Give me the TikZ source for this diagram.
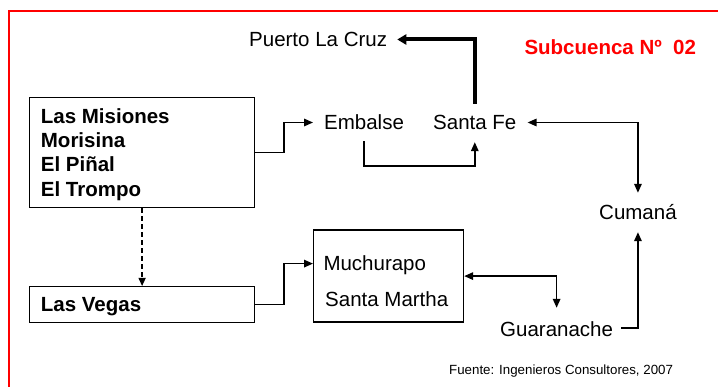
\documentclass[tikz,border=0pt]{standalone}
\usepackage{fontspec}
\setmainfont{Liberation Sans}
\usetikzlibrary{arrows.meta,calc}
\begin{document}
\begin{tikzpicture}[x=1pt,y=-1pt,
  txt/.style={inner sep=0pt, text height=15pt, text depth=0pt, font=\fontsize{20.5}{24.3}\selectfont},
  btxt/.style={txt, font=\fontsize{20.5}{24.3}\selectfont\bfseries},
  mtxt/.style={inner sep=0pt, align=left, font=\fontsize{20.5}{24.3}\selectfont\bfseries},
  boxst/.style={draw, line width=1.2pt, inner sep=0pt},
  conn/.style={line width=1.6pt, -{Triangle[length=9pt,width=7.5pt]}},
  connboth/.style={line width=1.6pt, {Triangle[length=9pt,width=7.5pt]}-{Triangle[length=9pt,width=7.5pt]}},
  thickconn/.style={line width=4pt, -{Triangle[length=9pt,width=10pt]}},
  dashconn/.style={line width=1.3pt, dash pattern=on 5pt off 3pt, -{Triangle[length=8pt,width=7pt]}},
  frame/.style={red, line width=2pt}]
\useasboundingbox (0,0) rectangle (718,387);
\draw[frame] (9,387) -- (9,11) -- (718,11);

% text nodes
\node[txt, anchor=base west] (plc) at (249,47) {Puerto La Cruz};
\node[txt, anchor=base west] (emb) at (324,130) {Embalse};
\node[txt, anchor=base west] (sf) at (433,130) {Santa Fe};
\node[txt, anchor=base west] (cum) at (599,220) {Cumaná};
\node[txt, anchor=base west] (gua) at (500,337) {Guaranache};
\node[btxt, text=red, anchor=base west] (sub) at (524.3,55) {Subcuenca Nº~~02};
\node[inner sep=0pt, anchor=base west, font=\fontsize{13.3}{16}\selectfont] (src) at (449,375) {Fuente: Ingenieros Consultores, 2007};

% boxes
\node[boxst, minimum width=225pt, minimum height=110pt, anchor=north west] (mis) at (29,97) {};
\node[mtxt, anchor=north west] (mistxt) at (40.7,108.3) {Las Misiones\\Morisina\\El Piñal\\El Trompo};
\node[boxst, minimum width=225pt, minimum height=36pt, anchor=north west] (veg) at (29,286) {};
\node[btxt, anchor=base west] (vegtxt) at (40.7,312) {Las Vegas};
\node[boxst, minimum width=150pt, minimum height=92pt, anchor=north west] (muc) at (313,229.5) {};
\node[txt, anchor=base west] (muc1) at (323.3,271) {Muchurapo};
\node[txt, anchor=base west] (muc2) at (325,307) {Santa Martha};

% connectors
\draw[conn] (mis.east) -- ++(29,0) |- ($(emb.west)+(-11,0)$);
\draw[conn] ($(emb.south)+(0,11)$) -- ++(0,25) -| ($(sf.south)+(0,12)$);
\draw[thickconn] ($(sf.north)+(0,-11)$) |- ($(plc.east)+(10,0)$);
\draw[connboth] ($(sf.east)+(11,0)$) -| ($(cum.north)+(0,-12)$);
\draw[conn] ($(gua.east)+(8,-1.5)$) -| ($(cum.south)+(0,12)$);
\draw[connboth] (muc.east) -| ($(gua.north)+(0,-14)$);
\draw[dashconn] (mis.south) -- (veg.north);
\draw[conn] (veg.east) -- ++(29,0) |- ($(muc.west)+(0,-12.5)$);
\end{tikzpicture}
\end{document}
